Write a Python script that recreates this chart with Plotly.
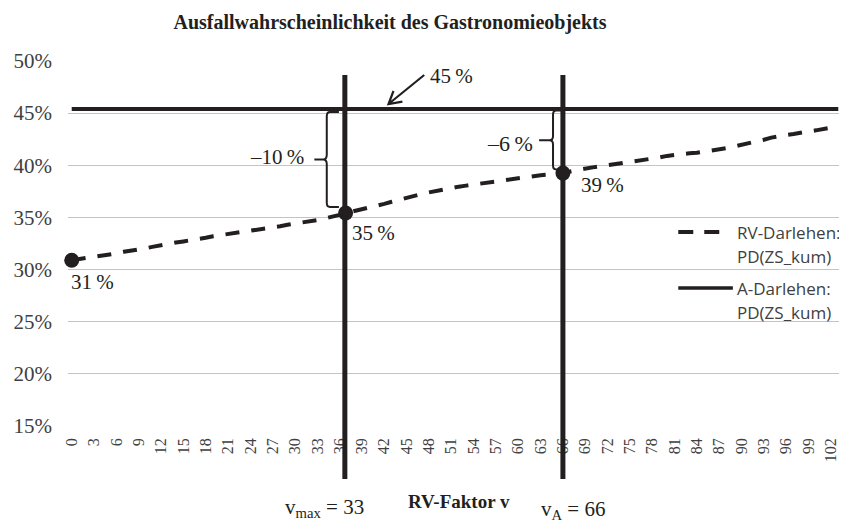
import plotly.graph_objects as go

# ---------------- data ----------------
categories = list(range(104))
rv_pd = [30.9, 31.0, 31.1, 31.2, 31.35, 31.45, 31.55, 31.7, 31.8, 31.95,
         32.05, 32.2, 32.35, 32.45, 32.6, 32.7, 32.8, 32.9, 33.05, 33.2,
         33.3, 33.4, 33.5, 33.6, 33.75, 33.85, 33.95, 34.05, 34.15, 34.3,
         34.4, 34.5, 34.6, 34.75, 34.9, 35.05, 35.25, 35.45, 35.6, 35.8,
         35.95, 36.15, 36.3, 36.5, 36.7, 36.9, 37.1, 37.25, 37.4, 37.55,
         37.7, 37.8, 37.95, 38.05, 38.15, 38.3, 38.4, 38.5, 38.6, 38.7,
         38.8, 38.9, 38.95, 39.05, 39.1, 39.2, 39.25, 39.4, 39.55, 39.7,
         39.8, 39.9, 40.0, 40.1, 40.2, 40.3, 40.4, 40.55, 40.65, 40.75,
         40.9, 41.0, 41.05, 41.15, 41.2, 41.3, 41.4, 41.5, 41.65, 41.8,
         41.95, 42.1, 42.25, 42.45, 42.65, 42.8, 42.9, 43.0, 43.15, 43.25,
         43.35, 43.5, 43.6, 43.7]
a_x = [0, 103]
a_pd = [45.4, 45.4]
point_x = [0, 36.8, 66.0]
point_y = [30.9, 35.43, 39.25]
point_labels = ["31\u2009%", "35\u2009%", "39\u2009%"]
vline_x = [36.7, 66.0]
y_ticks = [15, 20, 25, 30, 35, 40, 45, 50]
y_ticktext = ["15%", "20%", "25%", "30%", "35%", "40%", "45%", "50%"]
x_ticks = list(range(0, 103, 3))
title_text = "Ausfallwahrscheinlichkeit des Gastronomieobjekts"
legend_rv = ["RV-Darlehen:", "PD(ZS_kum)"]
legend_a = ["A-Darlehen:", "PD(ZS_kum)"]

# ---------------- layout helpers ----------------
OFF = 8                      # page offset of the figure (body margin)
W, H = 847 - OFF, 523 - OFF
PL, PR, PT, PB = 62, 842, 61, 426   # plot area in page pixels
L, R, T, B = PL - OFF, W - (PR - OFF), PT - OFF, H - (PB - OFF)
PW, PH = PR - PL, PB - PT


def px(x):
    return (x - PL) / PW


def py(y):
    return (PB - y) / PH


INK = "#231f20"
SERIF = "Liberation Serif"
SANS = "Open Sans"

fig = go.Figure()
fig.add_trace(go.Scatter(x=categories, y=rv_pd, mode="lines",
                         line=dict(color=INK, width=4, dash="14px,12px"),
                         showlegend=False, hoverinfo="skip"))
fig.add_trace(go.Scatter(x=a_x, y=a_pd, mode="lines",
                         line=dict(color=INK, width=4),
                         showlegend=False, hoverinfo="skip"))
fig.add_trace(go.Scatter(x=point_x, y=point_y, mode="markers", cliponaxis=False,
                         marker=dict(color=INK, size=15),
                         showlegend=False, hoverinfo="skip"))

shapes = []
for vx in vline_x:
    shapes.append(dict(type="line", xref="x", yref="paper", x0=vx, x1=vx,
                       y0=py(75), y1=py(479), line=dict(color=INK, width=5)))

# braces (data coordinates)
brace_l = ("M 35.9,45.1 L 34.7,45.1 Q 34.27,45.1 34.27,44.7 L 34.27,41.0 "
           "Q 34.27,40.55 33.8,40.55 L 32.6,40.55 M 33.8,40.55 "
           "Q 34.27,40.55 34.27,40.1 L 34.27,36.4 Q 34.27,36.0 34.7,36.0 L 35.9,36.0")
brace_r = ("M 65.9,45.25 L 65.1,45.25 Q 64.67,45.25 64.67,44.85 L 64.67,42.8 "
           "Q 64.67,42.4 64.2,42.4 L 62.8,42.4 M 64.2,42.4 "
           "Q 64.67,42.4 64.67,42.0 L 64.67,40.0 Q 64.67,39.6 65.1,39.6 L 66.0,39.6")
for p in (brace_l, brace_r):
    shapes.append(dict(type="path", xref="x", yref="y", path=p,
                       line=dict(color=INK, width=2)))

# arrow pointing at the A-Darlehen line (page pixel geometry -> paper)
arrow_path = "M {},{} L {},{} M {},{} L {},{} L {},{}".format(
    px(421), py(75), px(385), py(104),
    px(399), py(101.6), px(385), py(104), px(390), py(91))
shapes.append(dict(type="path", xref="paper", yref="paper", path=arrow_path,
                   line=dict(color=INK, width=2.2)))

# legend samples
shapes.append(dict(type="line", xref="paper", yref="paper", x0=px(677), x1=px(719),
                   y0=py(232), y1=py(232),
                   line=dict(color=INK, width=4, dash="15px,11px")))
shapes.append(dict(type="line", xref="paper", yref="paper", x0=px(677), x1=px(732),
                   y0=py(288), y1=py(288), line=dict(color=INK, width=3.5)))

annotations = []
# point labels
label_shift = [(-3, -22), (4, -20), (16, -12)]
for xv, yv, t, (dx, dy) in zip(point_x, point_y, point_labels, label_shift):
    annotations.append(dict(x=xv, y=yv, xref="x", yref="y", text=t, showarrow=False,
                            xanchor="left", yanchor="middle", xshift=dx, yshift=dy,
                            font=dict(family=SERIF, size=21, color=INK)))
# brace labels
annotations.append(dict(x=px(302), y=py(157), xref="paper", yref="paper",
                        text="\u201310\u2009%", showarrow=False, xanchor="right",
                        yanchor="middle", font=dict(family=SERIF, size=21, color=INK)))
annotations.append(dict(x=px(533), y=py(143), xref="paper", yref="paper",
                        text="\u20136\u2009%", showarrow=False, xanchor="right",
                        yanchor="middle", font=dict(family=SERIF, size=22, color=INK)))
# 45% arrow label
annotations.append(dict(x=px(425), y=py(76), xref="paper", yref="paper",
                        text="45\u2009%", showarrow=False, xanchor="left",
                        yanchor="middle", font=dict(family=SERIF, size=21, color=INK)))
# legend texts
for txt, yy in zip(legend_rv + legend_a, [232, 256, 288, 312]):
    annotations.append(dict(x=px(734), y=py(yy), xref="paper", yref="paper", text=txt,
                            showarrow=False, xanchor="left", yanchor="middle",
                            font=dict(family=SANS, size=17, color="#404040")))
# bottom texts
annotations.append(dict(x=px(279), y=py(508), xref="paper", yref="paper",
                        text="v<sub>max</sub> = 33", showarrow=False, xanchor="left",
                        yanchor="middle", font=dict(family=SERIF, size=21, color=INK)))
annotations.append(dict(x=px(403), y=py(501), xref="paper", yref="paper",
                        text="<b>RV-Faktor v</b>", showarrow=False, xanchor="left",
                        yanchor="middle", font=dict(family=SERIF, size=19, color=INK)))
annotations.append(dict(x=px(537), y=py(510), xref="paper", yref="paper",
                        text="v<sub>A</sub> = 66", showarrow=False, xanchor="left",
                        yanchor="middle", font=dict(family=SERIF, size=21, color=INK)))

fig.update_layout(
    width=W, height=H,
    margin=dict(l=L, r=R, t=T, b=B, pad=0),
    paper_bgcolor="white", plot_bgcolor="white",
    title=dict(text="<b>" + title_text + "</b>", x=(390 - OFF) / W, xref="container",
               xanchor="center", y=1 - (22 - OFF) / H, yref="container",
               yanchor="middle", font=dict(family=SERIF, size=20, color=INK)),
    xaxis=dict(range=[-0.5, 103.5], tickvals=x_ticks, ticktext=[str(v) for v in x_ticks],
               tickangle=-90, showgrid=False, zeroline=False, showline=False,
               ticks="", ticklabelstandoff=8,
               tickfont=dict(family=SERIF, size=16, color="#404040")),
    yaxis=dict(range=[15, 50], tickvals=y_ticks, ticktext=y_ticktext,
               showgrid=True, gridcolor="#c4c4c4", gridwidth=1, zeroline=False,
               showline=False, ticks="", ticklabelstandoff=15,
               tickfont=dict(family=SERIF, size=21, color="#404040")),
    shapes=shapes, annotations=annotations, showlegend=False,
)

fig.write_html("out.html")
